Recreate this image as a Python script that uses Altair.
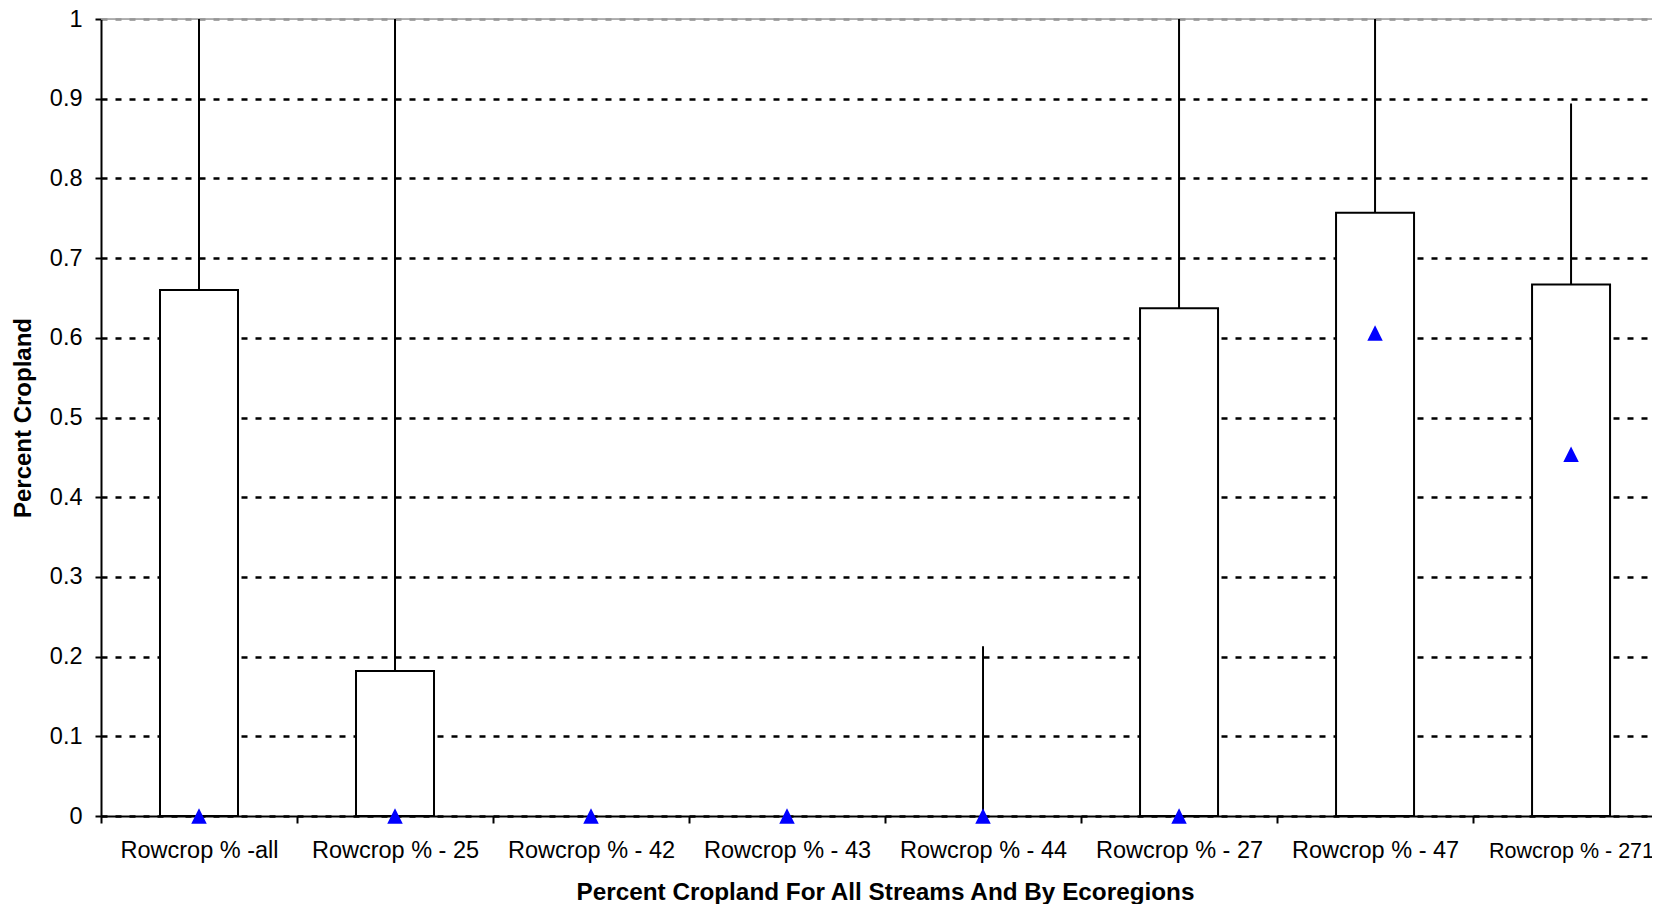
import altair as alt
import pandas as pd

# ---- data ----
categories = ["Rowcrop % -all", "Rowcrop % - 25", "Rowcrop % - 42", "Rowcrop % - 43",
              "Rowcrop % - 44", "Rowcrop % - 27", "Rowcrop % - 47", "Rowcrop % - 271"]
box_low = [0, 0, 0, 0, 0, 0, 0, 0]
box_high = [0.660, 0.182, 0, 0, 0, 0.637, 0.757, 0.667]
whisker_high = [1.0, 1.0, 0, 0, 0.213, 1.0, 1.0, 0.894]
marker_value = [0, 0, 0, 0, 0, 0, 0.606, 0.454]
y_ticks = [0, 0.1, 0.2, 0.3, 0.4, 0.5, 0.6, 0.7, 0.8, 0.9, 1.0]

FONT = "Liberation Sans"

df = pd.DataFrame({
    "cat": categories,
    "pos": [i + 0.5 for i in range(len(categories))],
    "low": box_low,
    "high": box_high,
    "wmax": whisker_high,
    "mark": marker_value,
})

x_values = [i * 0.5 for i in range(2 * len(categories))]
names_js = "[" + ",".join("'" + c + "'" for c in categories) + "]"

x_scale = alt.Scale(domain=[0, 7.913], nice=False, zero=False, padding=0)
y_scale = alt.Scale(domain=[0, 1], nice=False, zero=True, padding=0)

x_axis = alt.Axis(
    values=x_values,
    labelExpr="datum.value % 1 === 0 ? '' : " + names_js + "[floor(datum.value)]",
    tickOpacity={"condition": {"test": "datum.value % 1 !== 0", "value": 0}, "value": 1},
    tickSize=7, tickWidth=2, tickColor="black",
    domainColor="black", domainWidth=2,
    grid=False,
    labelFont=FONT, labelColor="black",
    labelFontSize={"condition": {"test": "datum.value > 7", "value": 21.5}, "value": 23.5},
    labelBaseline="alphabetic", labelPadding=34, labelLimit=400,
    labelOverlap=False, labelBound=False, labelFlush=False,
    title="Percent Cropland For All Streams And By Ecoregions",
    titleFont=FONT, titleFontSize=24.3, titleFontWeight="bold", titleColor="black",
    titleX=784, titleY=83, titleAlign="center", titleBaseline="alphabetic",
)

y_axis = alt.Axis(
    values=y_ticks,
    labelExpr="toString(round(datum.value * 10) / 10)",
    tickSize=6, tickWidth=2, tickColor="black",
    domainColor="black", domainWidth=2,
    grid=True, gridWidth=2.4, gridDash=[6, 8],
    gridColor={"condition": {"test": "datum.value >= 0.999", "value": "#8c8c8c"}, "value": "black"},
    labelFont=FONT, labelFontSize=23.5, labelColor="black", labelPadding=13,
    title="Percent Cropland",
    titleFont=FONT, titleFontSize=24, titleFontWeight="bold", titleColor="black",
    titleX=-78, titleBaseline="middle", titleAlign="center", titleAngle=270,
)

base = alt.Chart(df)

top_line = base.transform_filter("datum.pos < 1").mark_rule(
    color="#9a9a9a", strokeWidth=1.5
).encode(y=alt.datum(1, scale=y_scale))

whiskers = base.mark_rule(color="black", strokeWidth=2).encode(
    x=alt.X("pos:Q", scale=x_scale, axis=x_axis),
    y=alt.Y("high:Q", scale=y_scale, axis=y_axis),
    y2="wmax:Q",
)

boxes = base.transform_filter("datum.high > datum.low").mark_bar(
    size=78, fill="white", stroke="black", strokeWidth=2
).encode(
    x=alt.X("pos:Q", scale=x_scale),
    y=alt.Y("low:Q", scale=y_scale),
    y2="high:Q",
)

markers = base.mark_point(
    shape="M0,-1L1,1L-1,1Z", size=240, filled=True, fill="#0000ff", color="#0000ff", opacity=1
).encode(
    x=alt.X("pos:Q", scale=x_scale),
    y=alt.Y("mark:Q", scale=y_scale),
)

chart = alt.layer(top_line, whiskers, boxes, markers).properties(
    width=1551, height=797,
    autosize=alt.AutoSizeParams(type="none"),
    padding={"left": 93, "top": 11, "right": 0, "bottom": 88},
).configure_view(stroke=None).configure(background="white")

chart.save("out.html", embed_options={"renderer": "svg", "actions": False})
